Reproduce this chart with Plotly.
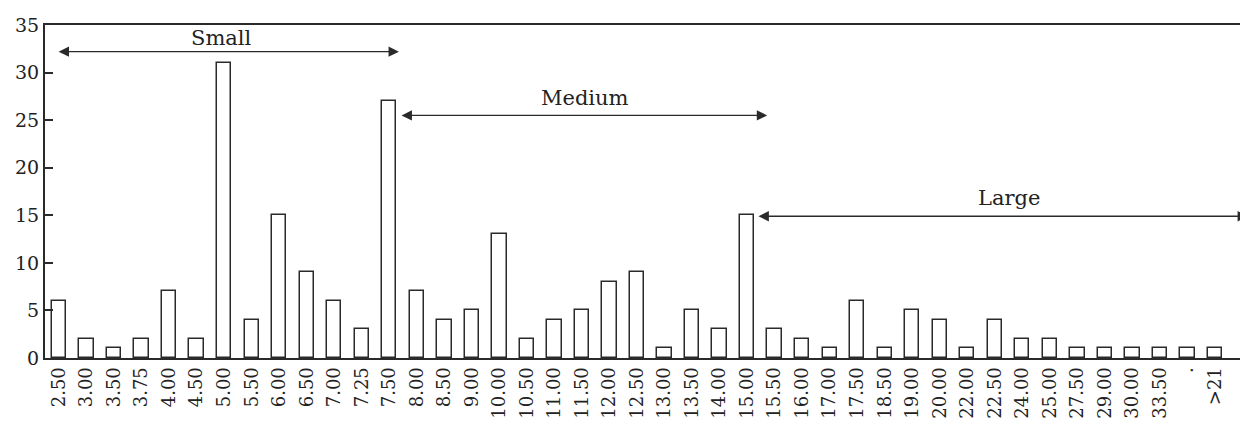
import plotly.graph_objects as go

categories = ["2.50", "3.00", "3.50", "3.75", "4.00", "4.50", "5.00", "5.50", "6.00", "6.50",
              "7.00", "7.25", "7.50", "8.00", "8.50", "9.00", "10.00", "10.50", "11.00", "11.50",
              "12.00", "12.50", "13.00", "13.50", "14.00", "15.00", "15.50", "16.00", "17.00", "17.50",
              "18.50", "19.00", "20.00", "22.00", "22.50", "24.00", "25.00", "27.50", "29.00", "30.00",
              "33.50", ".", ">21"]
counts = [6, 2, 1, 2, 7, 2, 31, 4, 15, 9,
          6, 3, 27, 7, 4, 5, 13, 2, 4, 5,
          8, 9, 1, 5, 3, 15, 3, 2, 1, 6,
          1, 5, 4, 1, 4, 2, 2, 1, 1, 1,
          1, 1, 1]
y_ticks = [0, 5, 10, 15, 20, 25, 30, 35]

# size-class ranges: (label, start index, end index, arrow level, label x, label y)
groups = [
    ("Small", -0.07, 12.35, 32.2, 5.92, 33.6),
    ("Medium", 12.39, 25.73, 25.5, 19.1, 27.3),
    ("Large", 25.36, 43.2, 14.9, 34.5, 16.8),
]

idx = list(range(len(categories)))
line_col = "#2a2a2a"
font_fam = "DejaVu Serif"

fig = go.Figure()
fig.add_trace(go.Bar(
    x=idx, y=counts, width=0.52,
    marker=dict(color="white", line=dict(color=line_col, width=1.5)),
    showlegend=False,
))

for name, x0, x1, lvl, tx, ty in groups:
    fig.add_annotation(x=x1, y=lvl, ax=x0, ay=lvl, xref="x", yref="y", axref="x", ayref="y",
                       text="", showarrow=True, arrowside="end+start", arrowhead=2,
                       arrowsize=1.6, arrowwidth=1.3, arrowcolor=line_col)
    fig.add_annotation(x=tx, y=ty, xref="x", yref="y", text=name, showarrow=False,
                       font=dict(family=font_fam, size=21, color="#222"), yanchor="middle")

fig.update_xaxes(
    tickmode="array", tickvals=idx, ticktext=categories, tickangle=-90,
    range=[-0.51, 43.2], showline=True, linecolor=line_col, linewidth=2, mirror=True,
    showgrid=False, zeroline=False, ticks="", automargin=False,
    tickfont=dict(family=font_fam, size=18, color="#222"),
)
fig.update_yaxes(
    tickmode="array", tickvals=y_ticks, range=[0, 35], showline=True, linecolor=line_col,
    linewidth=2, showgrid=False, zeroline=False, ticks="inside", ticklen=8,
    tickcolor=line_col, tickwidth=1.5, automargin=False,
    tickfont=dict(family=font_fam, size=19, color="#222"),
)
fig.update_layout(
    width=1248, height=425, margin=dict(l=37, r=8, t=17, b=75),
    plot_bgcolor="white", paper_bgcolor="white", bargap=0,
)
fig.write_html("out.html")
